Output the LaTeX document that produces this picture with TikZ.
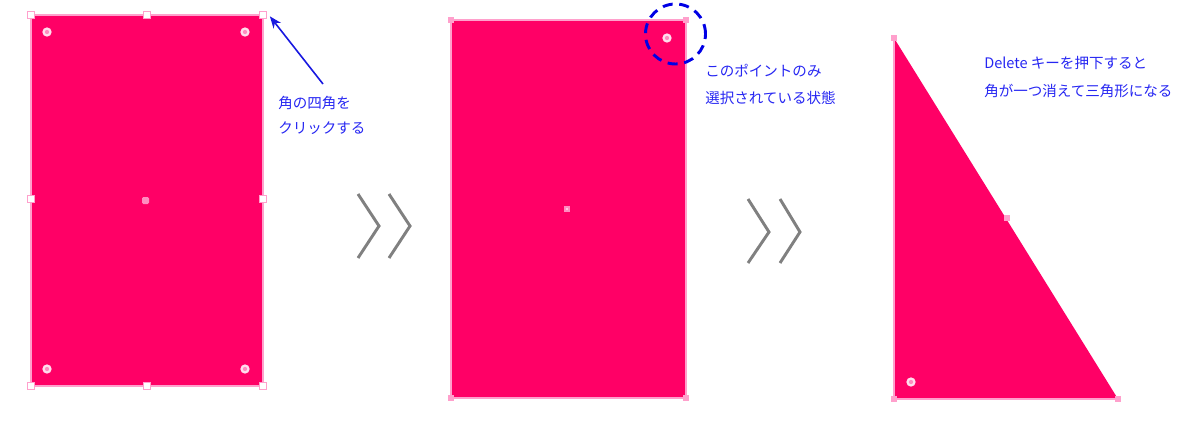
\documentclass[tikz,border=0pt]{standalone}
\usepackage{fontspec}
\newfontfamily\jp{Noto Sans CJK JP}
\usetikzlibrary{arrows.meta}
\definecolor{shapefill}{HTML}{FF0066}
\definecolor{edgepink}{HTML}{FFA0CC}
\definecolor{dotpink}{HTML}{FF8CC0}
\definecolor{notecol}{HTML}{2626F2}
\definecolor{arrowcol}{HTML}{1818E0}
\definecolor{chevcol}{HTML}{808080}
\tikzset{
  handle/.style={draw=edgepink, fill=white, line width=0.9pt, minimum size=5.4pt, inner sep=0pt, shape=rectangle},
  smallhandle/.style={fill=edgepink, minimum size=4pt, inner sep=0pt, shape=rectangle},
  notetext/.style={text=notecol, font=\jp\fontsize{10.9pt}{13pt}\selectfont, anchor=west, inner sep=0pt},
  chevron/.style={draw=chevcol, line width=2.2pt},
  outline/.style={draw=edgepink, line width=1pt},
}
\newcommand{\widget}[1]{\fill[white!65!edgepink] #1 circle (3.5pt); \fill[dotpink] #1 circle (1.6pt);}
\begin{document}
\begin{tikzpicture}[x=0.75pt,y=-0.75pt]
\useasboundingbox (0,0) rectangle (1200,422);
% ---------- panel 1 ----------
\fill[shapefill] (31,15) rectangle (263,386);
\draw[outline] (31,15) rectangle (263,386);
\fill[dotpink, rounded corners=1.1pt] (142,197) rectangle (149,204);
\widget{(47,32)} \widget{(245,32)} \widget{(47,369)} \widget{(245,369)}
\node[handle] (h1) at (31,15) {};
\node[handle] (h2) at (147,15) {};
\node[handle] (h3) at (263,15) {};
\node[handle] (h4) at (31,199) {};
\node[handle] (h5) at (263,199) {};
\node[handle] (h6) at (31,386) {};
\node[handle] (h7) at (147,386) {};
\node[handle] (h8) at (263,386) {};
\node[notetext] (t1a) at (278,103) {角の四角を};
\node[notetext] (t1b) at (278,128) {クリックする};
\coordinate (a1) at (323,84);
\draw[arrowcol, line width=1.2pt, -{Stealth[length=9pt,width=7pt]}] (a1) -- ([shift={(2pt,-1pt)}]h3.east);
% ---------- chevrons 1 ----------
\draw[chevron] (358,194) -- (379,226) -- (358,258);
\draw[chevron] (389,194) -- (410,226) -- (389,258);
% ---------- panel 2 ----------
\fill[shapefill] (451,20) rectangle (686,398);
\draw[edgepink, line width=0.8pt] (451,20) rectangle (686,398);
\node[smallhandle] (g1) at (451,20) {};
\node[smallhandle] (g2) at (686,20) {};
\node[smallhandle] (g3) at (451,398) {};
\node[smallhandle] (g4) at (686,398) {};
\fill[dotpink] (564,206) rectangle (570,212);
\fill[white!50!dotpink] (566,208) rectangle (568,210);
\widget{(667,38)}
\node[draw=blue!90!black, line width=2.2pt, dash pattern=on 7.5pt off 5pt, circle, minimum size=45pt, inner sep=0pt] (sel) at (675.5,34) {};
\node[notetext] (t2a) at (705,71) {このポイントのみ};
\node[notetext] (t2b) at (705,98) {選択されている状態};
% ---------- chevrons 2 ----------
\draw[chevron] (748,199) -- (769,232) -- (748,263);
\draw[chevron] (780,199) -- (800,232) -- (780,263);
% ---------- panel 3 ----------
\fill[shapefill] (894,38) -- (894,399) -- (1118,399) -- cycle;
\draw[edgepink, line width=1pt] (894,38) -- (894,399) -- (1118,399);
\node[smallhandle, minimum size=4.5pt] (k1) at (894,38) {};
\node[smallhandle, minimum size=4.5pt] (k2) at (894,399) {};
\node[smallhandle, minimum size=4.5pt] (k3) at (1118,399) {};
\node[smallhandle, minimum size=4.5pt] (k4) at (1007,218) {};
\widget{(911,382)}
\node[notetext] (t3a) at (984,63) {Delete キーを押下すると};
\node[notetext] (t3b) at (984,91) {角が一つ消えて三角形になる};
\end{tikzpicture}
\end{document}
